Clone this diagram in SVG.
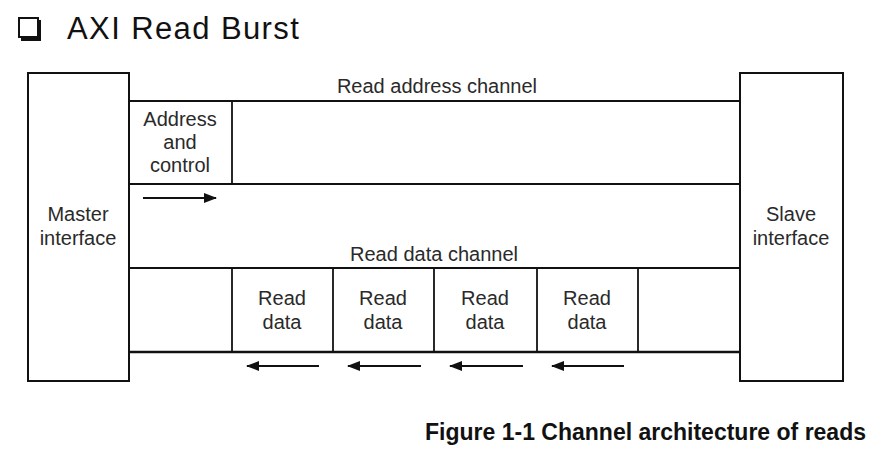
<svg xmlns="http://www.w3.org/2000/svg" width="876" height="456" viewBox="0 0 876 456">
<style>
.ln{stroke:#111;stroke-width:1.8;fill:none}
.bx{stroke:#111;stroke-width:2;fill:#fff}
.t{font-family:"Liberation Sans",Arial,sans-serif;font-size:20px;fill:#2a2a2a;text-anchor:middle}
.arr{stroke:#111;stroke-width:2.2;fill:none}
</style>
<defs>
<marker id="ah" markerWidth="13" markerHeight="10" refX="12" refY="5" orient="auto" markerUnits="userSpaceOnUse">
<path d="M0,0 L13,5 L0,10 z" fill="#111"/>
</marker>
</defs>
<g id="title">
<rect x="19" y="18" width="19" height="19" fill="#fff" stroke="#111" stroke-width="2"/>
<path d="M39.5,20 V39.5 H21" stroke="#111" stroke-width="3" fill="none"/>
<text x="67" y="39" font-family="'Liberation Sans',Arial,sans-serif" font-size="31" letter-spacing="1.4" fill="#111">AXI Read Burst</text>
</g>
<g id="master">
<rect class="bx" x="28" y="73" width="101" height="308"/>
<text class="t" x="78" y="221">Master</text>
<text class="t" x="78" y="245">interface</text>
</g>
<g id="slave">
<rect class="bx" x="740" y="73" width="103" height="308"/>
<text class="t" x="791" y="221">Slave</text>
<text class="t" x="791" y="245">interface</text>
</g>
<g id="read-address-channel">
<line class="ln" x1="129" y1="101" x2="740" y2="101"/>
<line class="ln" x1="129" y1="184" x2="740" y2="184"/>
<line class="ln" x1="232" y1="101" x2="232" y2="184"/>
<text class="t" x="437" y="93">Read address channel</text>
<text class="t" x="180" y="126">Address</text>
<text class="t" x="180" y="149">and</text>
<text class="t" x="180" y="172">control</text>
</g>
<g id="read-data-channel">
<line class="ln" x1="129" y1="268" x2="740" y2="268"/>
<line x1="129" y1="352" x2="740" y2="352" stroke="#111" stroke-width="2.5"/>
<line class="ln" x1="232" y1="268" x2="232" y2="352"/>
<line class="ln" x1="333" y1="268" x2="333" y2="352"/>
<line class="ln" x1="434" y1="268" x2="434" y2="352"/>
<line class="ln" x1="537" y1="268" x2="537" y2="352"/>
<line class="ln" x1="638" y1="268" x2="638" y2="352"/>
<text class="t" x="434" y="261">Read data channel</text>
<text class="t" x="282" y="305">Read</text><text class="t" x="282" y="329">data</text>
<text class="t" x="383" y="305">Read</text><text class="t" x="383" y="329">data</text>
<text class="t" x="485" y="305">Read</text><text class="t" x="485" y="329">data</text>
<text class="t" x="587" y="305">Read</text><text class="t" x="587" y="329">data</text>
</g>
<g id="connectors">
<line class="arr" x1="143" y1="198" x2="216" y2="198" marker-end="url(#ah)"/>
<line class="arr" x1="319" y1="366" x2="247" y2="366" marker-end="url(#ah)"/>
<line class="arr" x1="421" y1="366" x2="348" y2="366" marker-end="url(#ah)"/>
<line class="arr" x1="523" y1="366" x2="450" y2="366" marker-end="url(#ah)"/>
<line class="arr" x1="624" y1="366" x2="552" y2="366" marker-end="url(#ah)"/>
</g>
<g id="caption">
<text x="866" y="440" text-anchor="end" font-family="'Liberation Sans',Arial,sans-serif" font-size="23" font-weight="bold" fill="#111">Figure 1-1 Channel architecture of reads</text>
</g>
</svg>
